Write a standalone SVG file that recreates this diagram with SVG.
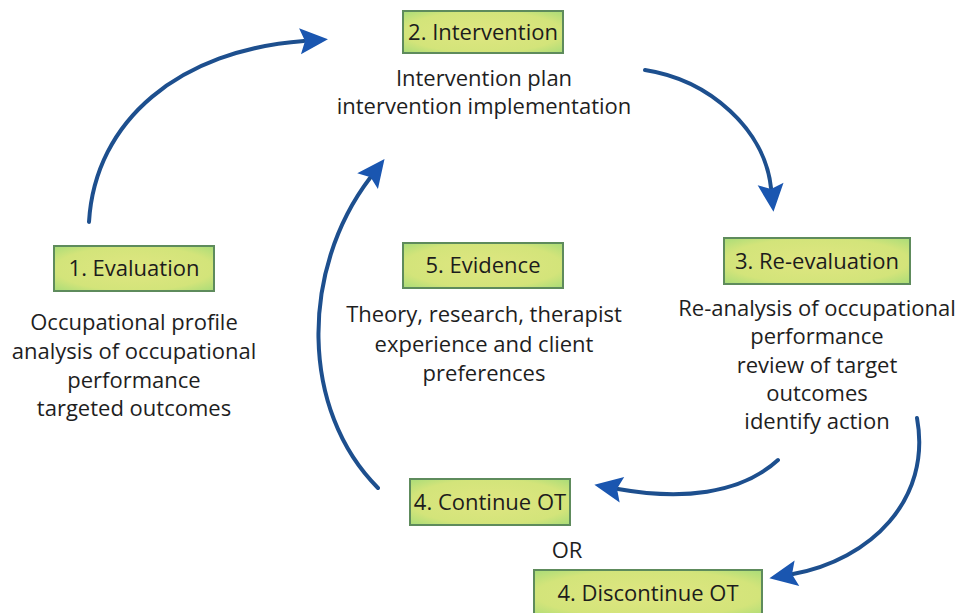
<svg xmlns="http://www.w3.org/2000/svg" width="960" height="613" viewBox="0 0 960 613">
<defs>
<radialGradient id="boxfill" cx="50%" cy="50%" r="70%">
<stop offset="0" stop-color="#dfe681"/>
<stop offset="0.7" stop-color="#d3e47a"/>
<stop offset="1" stop-color="#a9dc78"/>
</radialGradient>
<marker id="ah" markerUnits="userSpaceOnUse" markerWidth="32" markerHeight="28" refX="4" refY="13" orient="auto" overflow="visible">
<path d="M0,0 L28,13 L0,26 L5,13 z" fill="#1a56b0"/>
</marker>
<style>
.box{fill:url(#boxfill);stroke:#5e8b5c;stroke-width:2}
.lbl{font-family:"Open Sans","Noto Sans",sans-serif;font-size:22px;fill:#1c1c1c;text-anchor:middle}
.txt{font-family:"Open Sans","Noto Sans",sans-serif;font-size:22px;fill:#1e1e1e;text-anchor:middle}
.arr{fill:none;stroke:#1d4f8e;stroke-width:4;stroke-linecap:round;marker-end:url(#ah)}
</style>
</defs>
<rect width="960" height="613" fill="#fff"/>
<g id="connectors">
<path class="arr" d="M89,222 C 95,120 180,50 304,41"/>
<path class="arr" d="M645,70 C 710,80 765,130 771,188"/>
<path class="arr" d="M778,460 C 740,495 680,500 618,489"/>
<path class="arr" d="M917,418 C 932,500 870,560 793,574"/>
<path class="arr" d="M378,488 C 300,410 300,270 370,178"/>
</g>
<g id="n2">
<rect class="box" x="403" y="11" width="160" height="42"/>
<text class="lbl" x="483" y="40">2. Intervention</text>
<text class="txt" x="484" y="86">Intervention plan</text>
<text class="txt" x="484" y="114">intervention implementation</text>
</g>
<g id="n1">
<rect class="box" x="54" y="246" width="160" height="45"/>
<text class="lbl" x="134" y="276">1. Evaluation</text>
<text class="txt" x="134" y="330">Occupational profile</text>
<text class="txt" x="134" y="359">analysis of occupational</text>
<text class="txt" x="134" y="388">performance</text>
<text class="txt" x="134" y="416">targeted outcomes</text>
</g>
<g id="n5">
<rect class="box" x="403" y="243" width="160" height="45"/>
<text class="lbl" x="483" y="273">5. Evidence</text>
<text class="txt" x="484" y="322">Theory, research, therapist</text>
<text class="txt" x="484" y="352">experience and client</text>
<text class="txt" x="484" y="381">preferences</text>
</g>
<g id="n3">
<rect class="box" x="724" y="238" width="186" height="46"/>
<text class="lbl" x="817" y="269">3. Re-evaluation</text>
<text class="txt" x="817" y="316">Re-analysis of occupational</text>
<text class="txt" x="817" y="344">performance</text>
<text class="txt" x="817" y="373">review of target</text>
<text class="txt" x="817" y="401">outcomes</text>
<text class="txt" x="817" y="429">identify action</text>
</g>
<g id="n4a">
<rect class="box" x="410" y="479" width="160" height="46"/>
<text class="lbl" x="490" y="510">4. Continue OT</text>
</g>
<g id="or">
<text class="txt" x="567" y="558">OR</text>
</g>
<g id="n4b">
<rect class="box" x="534" y="570" width="228" height="48"/>
<text class="lbl" x="648" y="601">4. Discontinue OT</text>
</g>
</svg>
